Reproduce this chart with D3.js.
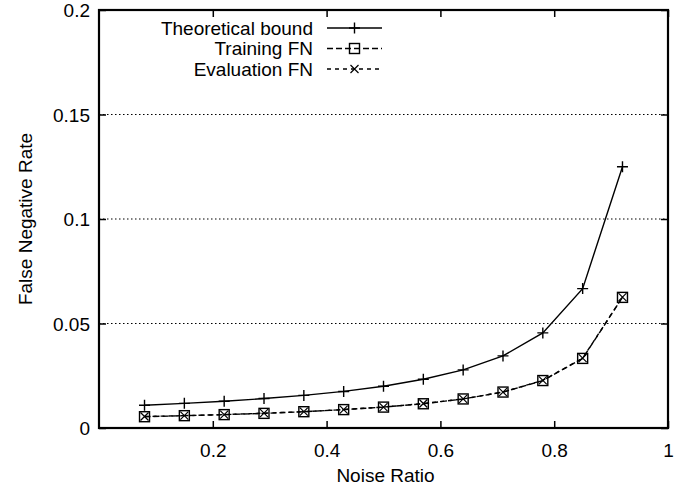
<!DOCTYPE html>
<html>
<head>
<meta charset="utf-8">
<script src="https://cdn.jsdelivr.net/npm/d3@7"></script>
<style>
  body { margin: 0; background: #fff; }
  text { font-family: "Liberation Sans", Arial, sans-serif; fill: #000; }
</style>
</head>
<body>
<div id="chart"></div>
<script>
// Data
const noise = [0.08, 0.15, 0.22, 0.29, 0.36, 0.43, 0.50, 0.57, 0.64, 0.71, 0.78, 0.85, 0.92]
const theoretical = [0.0109, 0.0118, 0.0128, 0.0141, 0.0156, 0.0175, 0.0200, 0.0233, 0.0278, 0.0345, 0.0455, 0.0667, 0.1250]
const trainingFN = [0.0054, 0.0059, 0.0064, 0.0070, 0.0078, 0.0088, 0.0100, 0.0116, 0.0139, 0.0172, 0.0227, 0.0333, 0.0625]
const evaluationFN = [0.0055, 0.0059, 0.0064, 0.0071, 0.0078, 0.0088, 0.0100, 0.0117, 0.0139, 0.0172, 0.0228, 0.0334, 0.0626]
const xTicks = [0.2, 0.4, 0.6, 0.8, 1]
const yTicks = [0, 0.05, 0.1, 0.15, 0.2]

const W = 695, H = 491
const margin = {top: 10, right: 27, bottom: 63, left: 99}
const width = W - margin.left - margin.right
const height = H - margin.top - margin.bottom
const fontSize = "19px"

const svg = d3.select("#chart")
  .append("svg")
  .attr("width", W)
  .attr("height", H)
  .append("g")
  .attr("transform", `translate(${margin.left},${margin.top})`)

const x = d3.scaleLinear().domain([0, 1]).range([0, width])
const y = d3.scaleLinear().domain([0, 0.2]).range([height, 0])

const fmt = d => d === 0 ? "0" : String(+d.toFixed(2))

// dotted grid lines (horizontal only, inner ticks)
svg.selectAll(".grid")
  .data(yTicks.filter(d => d > 0 && d < 0.2))
  .join("line")
    .attr("x1", 0).attr("x2", width)
    .attr("y1", d => y(d)).attr("y2", d => y(d))
    .attr("stroke", "#000")
    .attr("stroke-width", 1.2)
    .attr("stroke-dasharray", "1.5,2.5")

// axes with inward ticks, mirrored on top/right
const tickLen = 7
svg.append("g").attr("transform", `translate(0,${height})`)
  .call(d3.axisBottom(x).tickValues(xTicks).tickSize(-tickLen).tickPadding(16).tickFormat(fmt))
svg.append("g")
  .call(d3.axisTop(x).tickValues(xTicks).tickSize(-tickLen).tickFormat(""))
const ay = svg.append("g")
  .call(d3.axisLeft(y).tickValues(yTicks).tickSize(-tickLen).tickPadding(9).tickFormat(fmt))
svg.append("g").attr("transform", `translate(${width},0)`)
  .call(d3.axisRight(y).tickValues(yTicks).tickSize(-tickLen).tickFormat(""))

svg.selectAll(".domain").remove()
svg.selectAll(".tick line").attr("stroke", "#000").attr("stroke-width", 1.5)
svg.selectAll(".tick text").style("font-size", fontSize).style("font-family", "'Liberation Sans', Arial, sans-serif")
ay.selectAll(".tick text").attr("dy", "0.36em")

// frame
svg.append("rect")
  .attr("width", width).attr("height", height)
  .attr("fill", "none").attr("stroke", "#000").attr("stroke-width", 2.2)

// axis titles
svg.append("text")
  .attr("x", width / 2 + 2).attr("y", height + 54)
  .attr("text-anchor", "middle")
  .style("font-size", fontSize)
  .text("Noise Ratio")
svg.append("text")
  .attr("transform", `translate(${-67},${height / 2}) rotate(-90)`)
  .attr("text-anchor", "middle")
  .style("font-size", fontSize)
  .text("False Negative Rate")

// markers
function plus(g, cx, cy) {
  const s = 5.5
  g.append("path").attr("d", `M${cx - s},${cy}H${cx + s}M${cx},${cy - s}V${cy + s}`)
    .attr("stroke", "#000").attr("stroke-width", 1.4).attr("fill", "none")
}
function square(g, cx, cy) {
  const s = 5
  g.append("rect").attr("x", cx - s).attr("y", cy - s).attr("width", 2 * s).attr("height", 2 * s)
    .attr("stroke", "#000").attr("stroke-width", 1.4).attr("fill", "none")
}
function cross(g, cx, cy) {
  const s = 4
  g.append("path").attr("d", `M${cx - s},${cy - s}L${cx + s},${cy + s}M${cx - s},${cy + s}L${cx + s},${cy - s}`)
    .attr("stroke", "#000").attr("stroke-width", 1.2).attr("fill", "none")
}

const series = [
  {name: "Theoretical bound", values: theoretical, dash: null, marker: plus},
  {name: "Training FN", values: trainingFN, dash: "6,3", marker: square},
  {name: "Evaluation FN", values: evaluationFN, dash: "4,4", marker: cross}
]

const line = d3.line().x(d => x(d[0])).y(d => y(d[1]))

series.forEach(s => {
  const pts = noise.map((n, i) => [n, s.values[i]])
  svg.append("path")
    .datum(pts)
    .attr("d", line)
    .attr("fill", "none")
    .attr("stroke", "#000")
    .attr("stroke-width", 1.4)
    .attr("stroke-dasharray", s.dash)
  const mg = svg.append("g")
  pts.forEach(p => s.marker(mg, x(p[0]), y(p[1])))
})

// legend
const legend = svg.append("g")
series.forEach((s, i) => {
  const ly = 18 + i * 20.5
  legend.append("text")
    .attr("x", 214).attr("y", ly).attr("dy", "0.35em")
    .attr("text-anchor", "end")
    .style("font-size", fontSize)
    .text(s.name)
  legend.append("line")
    .attr("x1", 228).attr("x2", 283)
    .attr("y1", ly).attr("y2", ly)
    .attr("stroke", "#000").attr("stroke-width", 1.4)
    .attr("stroke-dasharray", s.dash)
  s.marker(legend, 255.5, ly)
})
</script>
</body>
</html>
